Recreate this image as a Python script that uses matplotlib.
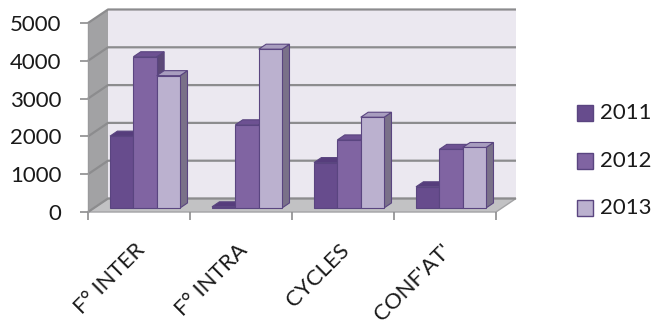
import matplotlib.pyplot as plt
from matplotlib.patches import Polygon, Rectangle

plt.rcParams['font.family'] = ['Lato', 'DejaVu Sans']

categories = ["F° INTER", "F° INTRA", "CYCLES", "CONF'AT'"]
years = ["2011", "2012", "2013"]
v2011 = [1900, 30, 1200, 560]
v2012 = [4000, 2200, 1800, 1550]
v2013 = [3500, 4200, 2400, 1600]
yticks = [0, 1000, 2000, 3000, 4000, 5000]

series = [v2011, v2012, v2013]
front_col = ['#674c8d', '#8064a2', '#bbb1cf']
top_col = ['#563d7c', '#6d5192', '#a89dbf']
side_col = ['#4e3a69', '#5b4877', '#7a7189']
edge_col = '#5a4580'
txt_col = '#1a1a1a'

W, H = 654, 326
# front plane of the plot in pixels
X0, X1, Y0, Y1 = 88, 496, 212, 23

fig = plt.figure(figsize=(W / 100, H / 100), dpi=100)
ax = fig.add_axes([X0 / W, (H - Y0) / H, (X1 - X0) / W, (Y0 - Y1) / H])
ax.set_xlim(-0.5, len(categories) - 0.5)
ax.set_ylim(0, 5000)
ax.patch.set_alpha(0)
for s in ax.spines.values():
    s.set_visible(False)

# pixel -> data units
px_x = len(categories) / (X1 - X0)
px_y = 5000 / (Y0 - Y1)
DX, DY = 20 * px_x, 13.5 * px_y
xl, xr = -0.5, len(categories) - 0.5

def poly(pts, fc, ec='none', lw=0, z=1):
    ax.add_patch(Polygon(pts, closed=True, facecolor=fc, edgecolor=ec,
                         linewidth=lw, zorder=z, clip_on=False))

# walls and floor
poly([(xl + DX, DY), (xr + DX, DY), (xr + DX, 5000 + DY), (xl + DX, 5000 + DY)], '#ebe8f0')
poly([(xl, 0), (xl + DX, DY), (xl + DX, 5000 + DY), (xl, 5000)], '#a2a2a4')
poly([(xl, 0), (xr, 0), (xr + DX, DY), (xl + DX, DY)], '#c2c2c4', '#a3a3a5', 1)
for t in yticks:
    ax.plot([xl, xl + DX, xr + DX], [t, t + DY, t + DY], color='#8c8c8e',
            lw=1.6, zorder=2, clip_on=False, solid_capstyle='butt')
ax.plot([xl, xl], [0, 5000], color='#9a9a9c', lw=1, zorder=2, clip_on=False)

# bars
gap, w = 0.157, 0.229
f0, f1 = 0.3, 0.67
for i in range(len(categories)):
    for j, vals in enumerate(series):
        v = vals[i]
        x = i - 0.5 + gap + j * w + f0 * DX
        b = f0 * DY
        dx, dy = (f1 - f0) * DX, (f1 - f0) * DY
        z = 3 + i * 3 + j
        poly([(x + w, b), (x + w + dx, b + dy), (x + w + dx, b + v + dy), (x + w, b + v)],
             side_col[j], edge_col, 0.8, z)
        poly([(x, b + v), (x + w, b + v), (x + w + dx, b + v + dy), (x + dx, b + v + dy)],
             top_col[j], edge_col, 0.8, z)
        ax.bar(x, v, width=w, bottom=b, align='edge', color=front_col[j],
               edgecolor=edge_col, linewidth=0.8, zorder=z)

# ticks and labels
ax.set_yticks(yticks)
ax.tick_params(axis='y', length=6, width=1.2, color='#8c8c8e', pad=13,
               labelsize=16, labelcolor=txt_col)
ax.set_xticks([k - 0.5 for k in range(len(categories) + 1)], minor=True)
ax.set_xticks(range(len(categories)))
ax.set_xticklabels([])
ax.tick_params(axis='x', which='minor', length=6, width=1.2, color='#8c8c8e')
ax.tick_params(axis='x', which='major', length=0)
for i, c in enumerate(categories):
    ax.annotate(c, (i, 0), xytext=(-4, -28), textcoords='offset pixels',
                rotation=45, rotation_mode='anchor', ha='right', va='top',
                fontsize=16, color=txt_col)

# legend
for j, y in enumerate(years):
    yc = [113, 161, 208][j]
    fig.patches.append(Rectangle((577 / W, (H - yc - 8) / H), 16 / W, 16 / H,
                                 transform=fig.transFigure, facecolor=front_col[j],
                                 edgecolor=edge_col, linewidth=1))
    fig.text(600 / W, (H - yc) / H, y, fontsize=16, va='center', ha='left',
             color=txt_col)

fig.savefig('out.png', dpi=100)
